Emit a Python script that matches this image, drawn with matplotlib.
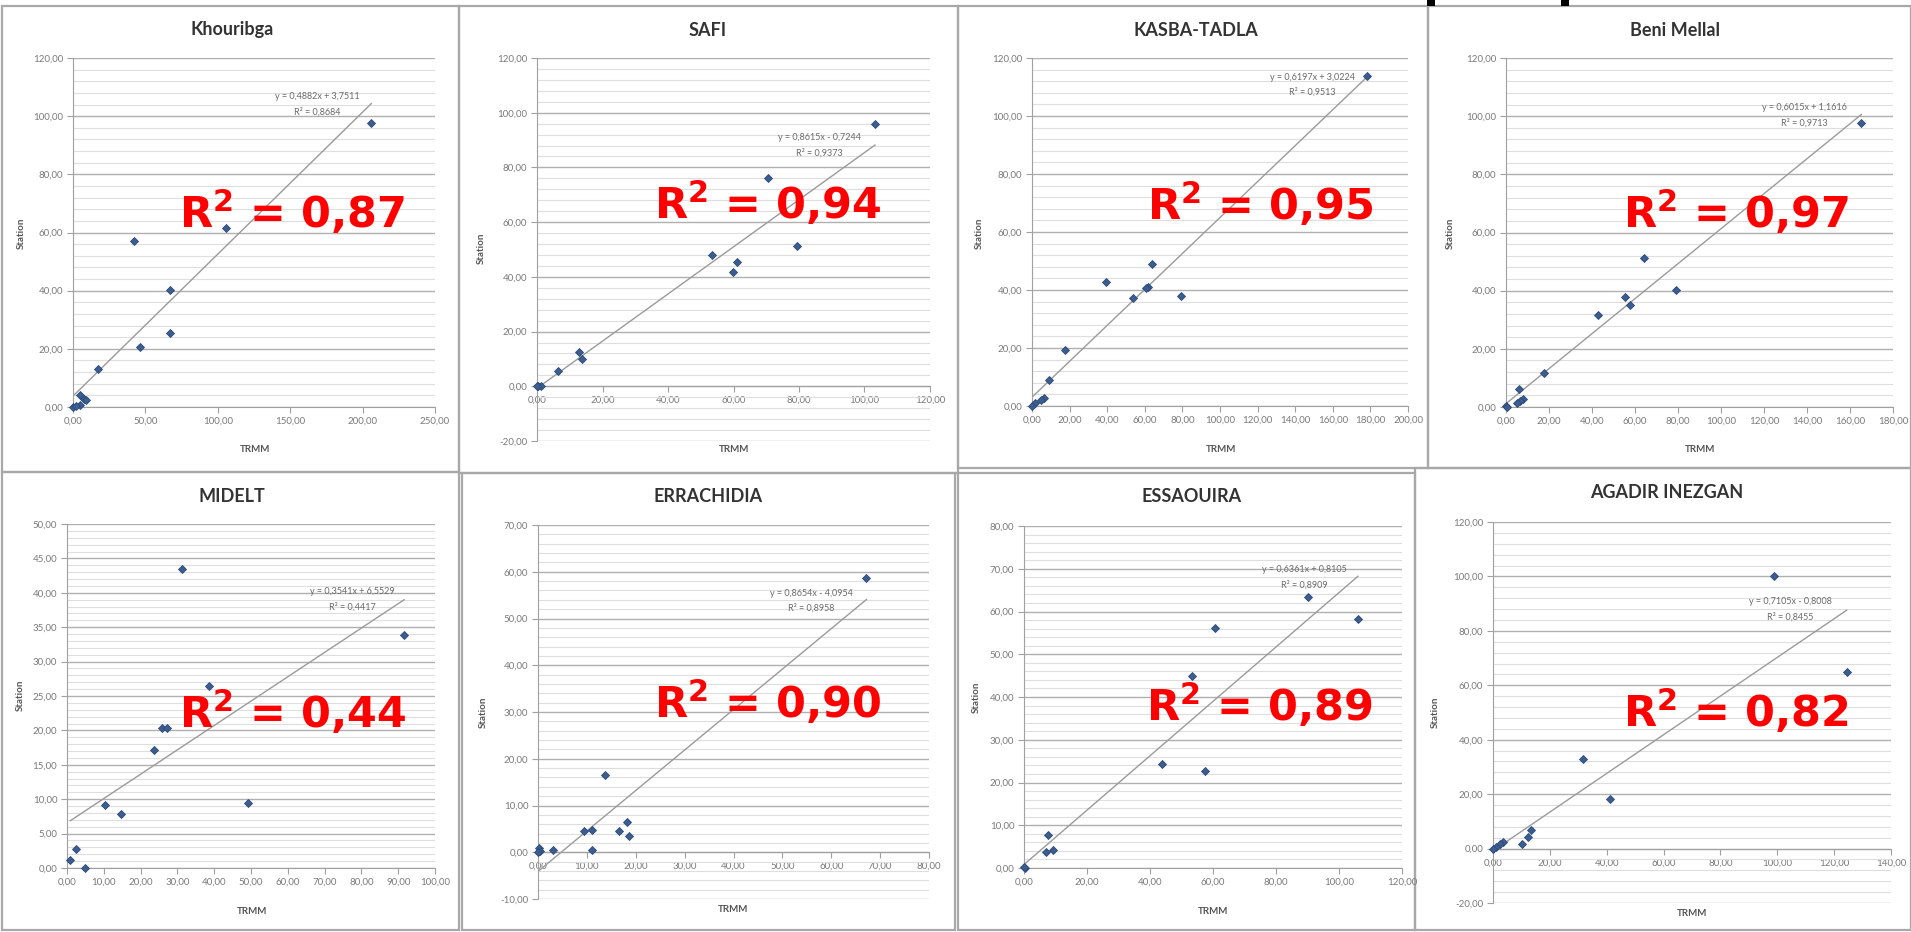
import matplotlib
matplotlib.use("Agg")
import matplotlib.pyplot as plt
from matplotlib.patches import Rectangle
from matplotlib.ticker import FuncFormatter, MultipleLocator
import numpy as np

plt.rcParams['mathtext.fontset'] = 'dejavusans'

# ---------------- data ----------------
titles = ['Khouribga', 'SAFI', 'KASBA-TADLA', 'Beni Mellal',
          'MIDELT', 'ERRACHIDIA', 'ESSAOUIRA', 'AGADIR INEZGAN']

trmm_khouribga = [206.0, 106.0, 41.9, 67.3, 66.8, 46.1, 17.1, 5.1, 7.4, 9.2, 5.0, 0.0, 2.3]
station_khouribga = [97.6, 61.4, 57.1, 40.4, 25.6, 20.7, 12.9, 4.0, 2.9, 2.3, 0.6, 0.0, 0.2]

trmm_safi = [103.2, 70.6, 79.3, 53.3, 61.2, 59.9, 12.7, 13.7, 6.4, 0.3, 1.1, 0.0]
station_safi = [95.7, 76.2, 51.2, 47.9, 45.5, 41.8, 12.6, 10.1, 5.6, 0.0, 0.0, 0.2]

trmm_kasba = [178.1, 63.6, 39.6, 61.8, 60.9, 53.5, 79.2, 17.8, 8.9, 6.4, 4.6, 1.4, 0.0]
station_kasba = [113.9, 48.9, 42.9, 41.1, 40.6, 37.4, 38.1, 19.3, 9.0, 2.6, 2.0, 0.9, 0.0]

trmm_beni = [165.3, 64.0, 79.2, 55.4, 57.5, 42.7, 17.7, 6.1, 8.1, 6.5, 5.0, 0.0, 0.6]
station_beni = [97.8, 51.3, 40.4, 37.9, 35.2, 31.5, 11.7, 6.1, 2.6, 2.1, 1.4, 0.2, 0.0]

trmm_midelt = [31.2, 91.6, 38.5, 25.8, 27.3, 23.7, 10.2, 49.3, 14.7, 2.5, 0.9, 5.0]
station_midelt = [43.5, 33.8, 26.5, 20.3, 20.3, 17.2, 9.2, 9.4, 7.9, 2.7, 1.1, 0.0]

trmm_errachidia = [67.2, 13.8, 18.3, 16.5, 18.6, 9.4, 11.1, 11.1, 3.1, 0.3, 0.5, 0.0]
station_errachidia = [58.6, 16.5, 6.4, 4.5, 3.4, 4.6, 4.8, 0.4, 0.4, 0.9, 0.2, 0.0]

trmm_essaouira = [90.0, 106.0, 60.6, 53.2, 43.9, 57.4, 7.5, 9.1, 6.9, 0.3, 0.0]
station_essaouira = [63.5, 58.2, 56.1, 44.9, 24.4, 22.7, 7.8, 4.1, 3.7, 0.0, 0.2]

trmm_agadir = [99.0, 124.4, 31.5, 41.2, 13.5, 12.2, 10.2, 3.5, 2.6, 1.2, 0.0]
station_agadir = [100.1, 65.0, 32.9, 18.2, 6.7, 4.2, 1.5, 2.4, 1.5, 0.5, 0.0]

slopes = [0.4882, 0.8615, 0.6197, 0.6015, 0.3541, 0.8654, 0.6361, 0.7105]
intercepts = [3.7511, -0.7244, 3.0224, 1.1616, 6.5529, -4.0954, 0.8105, -0.8008]
r2_equation = [0.8684, 0.9373, 0.9513, 0.9713, 0.4417, 0.8958, 0.8909, 0.8455]
r2_overlay = ['0,87', '0,94', '0,95', '0,97', '0,44', '0,90', '0,89', '0,82']

trmm_all = [trmm_khouribga, trmm_safi, trmm_kasba, trmm_beni,
            trmm_midelt, trmm_errachidia, trmm_essaouira, trmm_agadir]
station_all = [station_khouribga, station_safi, station_kasba, station_beni,
               station_midelt, station_errachidia, station_essaouira, station_agadir]

# ---------------- layout (pixels) ----------------
W, H = 1911, 932
layout = [
    dict(frame=(2, 6, 459, 472), plot=(73, 58, 435, 407), xlim=(0, 250), ylim=(0, 120), xs=50, ys=20,
         title=(232, 30), ylab=(21, 233), xlab=(255, 450), eq=(317, 97), r2=(292, 213)),
    dict(frame=(459, 6, 958, 473), plot=(537, 58, 930, 441), xlim=(0, 120), ylim=(-20, 120), xs=20, ys=20,
         title=(708, 30), ylab=(481, 248), xlab=(734, 450), eq=(819, 138), r2=(768, 204)),
    dict(frame=(958, 6, 1428, 468), plot=(1032, 58, 1408, 406), xlim=(0, 200), ylim=(0, 120), xs=20, ys=20,
         title=(1196, 30), ylab=(979, 233), xlab=(1221, 450), eq=(1312, 77), r2=(1260, 205)),
    dict(frame=(1428, 6, 1911, 468), plot=(1506, 58, 1893, 407), xlim=(0, 180), ylim=(0, 120), xs=20, ys=20,
         title=(1675, 30), ylab=(1450, 233), xlab=(1700, 450), eq=(1804, 108), r2=(1736, 213)),
    dict(frame=(2, 472, 459, 930), plot=(67, 524, 435, 868), xlim=(0, 100), ylim=(0, 50), xs=10, ys=5,
         title=(232, 496), ylab=(20, 695), xlab=(252, 912), eq=(352, 592), r2=(293, 713)),
    dict(frame=(462, 473, 955, 930), plot=(538, 525, 929, 899), xlim=(0, 80), ylim=(-10, 70), xs=10, ys=10,
         title=(708, 497), ylab=(483, 712), xlab=(733, 909), eq=(811, 593), r2=(768, 703)),
    dict(frame=(958, 473, 1415, 930), plot=(1024, 526, 1402, 868), xlim=(0, 120), ylim=(0, 80), xs=20, ys=10,
         title=(1192, 497), ylab=(976, 697), xlab=(1213, 912), eq=(1304, 570), r2=(1260, 706)),
    dict(frame=(1415, 468, 1911, 930), plot=(1493, 522, 1891, 903), xlim=(0, 140), ylim=(-20, 120), xs=20, ys=20,
         title=(1667, 492), ylab=(1435, 712), xlab=(1692, 913), eq=(1790, 602), r2=(1736, 712)),
]

fig = plt.figure(figsize=(W / 100, H / 100), dpi=100)
fig.patch.set_facecolor('white')


def fx(px):
    return px / W


def fy(py):
    return 1 - py / H


def comma_fmt(v, pos):
    return f"{v:.2f}".replace('.', ',')


GRAY_TXT = '#7a7a7a'
for i, lay in enumerate(layout):
    x0, y0, x1, y1 = lay['frame']
    fig.patches.append(Rectangle((fx(x0), fy(y1)), (x1 - x0) / W, (y1 - y0) / H,
                                 transform=fig.transFigure, fill=False,
                                 edgecolor='#a8a8a8', lw=1.6, zorder=-5))
    L, T, R, B = lay['plot']
    ax = fig.add_axes([fx(L), fy(B), (R - L) / W, (B - T) / H])
    ax.set_facecolor('none')
    ax.set_xlim(*lay['xlim'])
    ax.set_ylim(*lay['ylim'])
    for s in ['top', 'right']:
        ax.spines[s].set_visible(False)
    ax.spines['left'].set_color('#a0a0a0')
    ax.spines['bottom'].set_color('#a0a0a0')
    ax.spines['bottom'].set_position(('data', 0))
    ax.xaxis.set_major_locator(MultipleLocator(lay['xs']))
    ax.yaxis.set_major_locator(MultipleLocator(lay['ys']))
    ax.yaxis.set_minor_locator(MultipleLocator(lay['ys'] / 5))
    ax.xaxis.set_major_formatter(FuncFormatter(comma_fmt))
    ax.yaxis.set_major_formatter(FuncFormatter(comma_fmt))
    ax.tick_params(axis='both', which='major', labelsize=7, colors='#a0a0a0',
                   labelcolor=GRAY_TXT, length=4, width=0.8, pad=3)
    ax.tick_params(axis='y', which='minor', length=0)
    ax.grid(axis='y', which='major', color='#b0b0b0', lw=1.0, zorder=0)
    ax.grid(axis='y', which='minor', color='#dedede', lw=0.8, zorder=0)
    ax.set_axisbelow(True)
    for lbl in ax.get_xticklabels() + ax.get_yticklabels():
        lbl.set_family('Lato')

    xs = np.array(trmm_all[i])
    ys = np.array(station_all[i])
    xl = np.array([xs.min(), xs.max()])
    ax.plot(xl, slopes[i] * xl + intercepts[i], color='#9a9a9a', lw=1.0, zorder=2)
    ax.plot(xs, ys, linestyle='none', marker='D', markersize=4.2,
            markerfacecolor='#3b5d8f', markeredgecolor='#2c4a78', markeredgewidth=0.6,
            zorder=3, clip_on=False)

    sign = '+' if intercepts[i] >= 0 else '-'
    eq1 = f"y = {slopes[i]:.4f}x {sign} {abs(intercepts[i]):.4f}".replace('.', ',')
    eq2 = f"R² = {r2_equation[i]:.4f}".replace('.', ',')
    ex, ey = lay['eq']
    fig.text(fx(ex), fy(ey), eq1, ha='center', va='center', fontsize=6.5, color='#6a6a6a', family='Lato')
    fig.text(fx(ex), fy(ey + 15), eq2, ha='center', va='center', fontsize=6.5, color='#6a6a6a', family='Lato')

    tx, ty = lay['title']
    fig.text(fx(tx), fy(ty), titles[i], ha='center', va='center', fontsize=13,
             fontweight='bold', color='#333333', family='Lato')
    lx, ly = lay['ylab']
    fig.text(fx(lx), fy(ly), 'Station', ha='center', va='center', rotation=90,
             fontsize=7, fontweight='bold', color='#555555', family='Lato')
    xx, xy = lay['xlab']
    fig.text(fx(xx), fy(xy), 'TRMM', ha='center', va='center',
             fontsize=7, fontweight='bold', color='#555555', family='Lato')

    rx, ry = lay['r2']
    fig.text(fx(rx), fy(ry), r'R$^{\mathbf{2}}$ = ' + r2_overlay[i], ha='center', va='center',
             fontsize=31, fontweight='bold', color='#ff0000', family='DejaVu Sans', zorder=10)

# cut-off black marks at the top edge
for bx in (1427, 1561):
    fig.patches.append(Rectangle((fx(bx), fy(6)), 8 / W, 6 / H, transform=fig.transFigure,
                                 facecolor='black', edgecolor='none', zorder=5))

fig.savefig('out.png', dpi=100, facecolor='white')
